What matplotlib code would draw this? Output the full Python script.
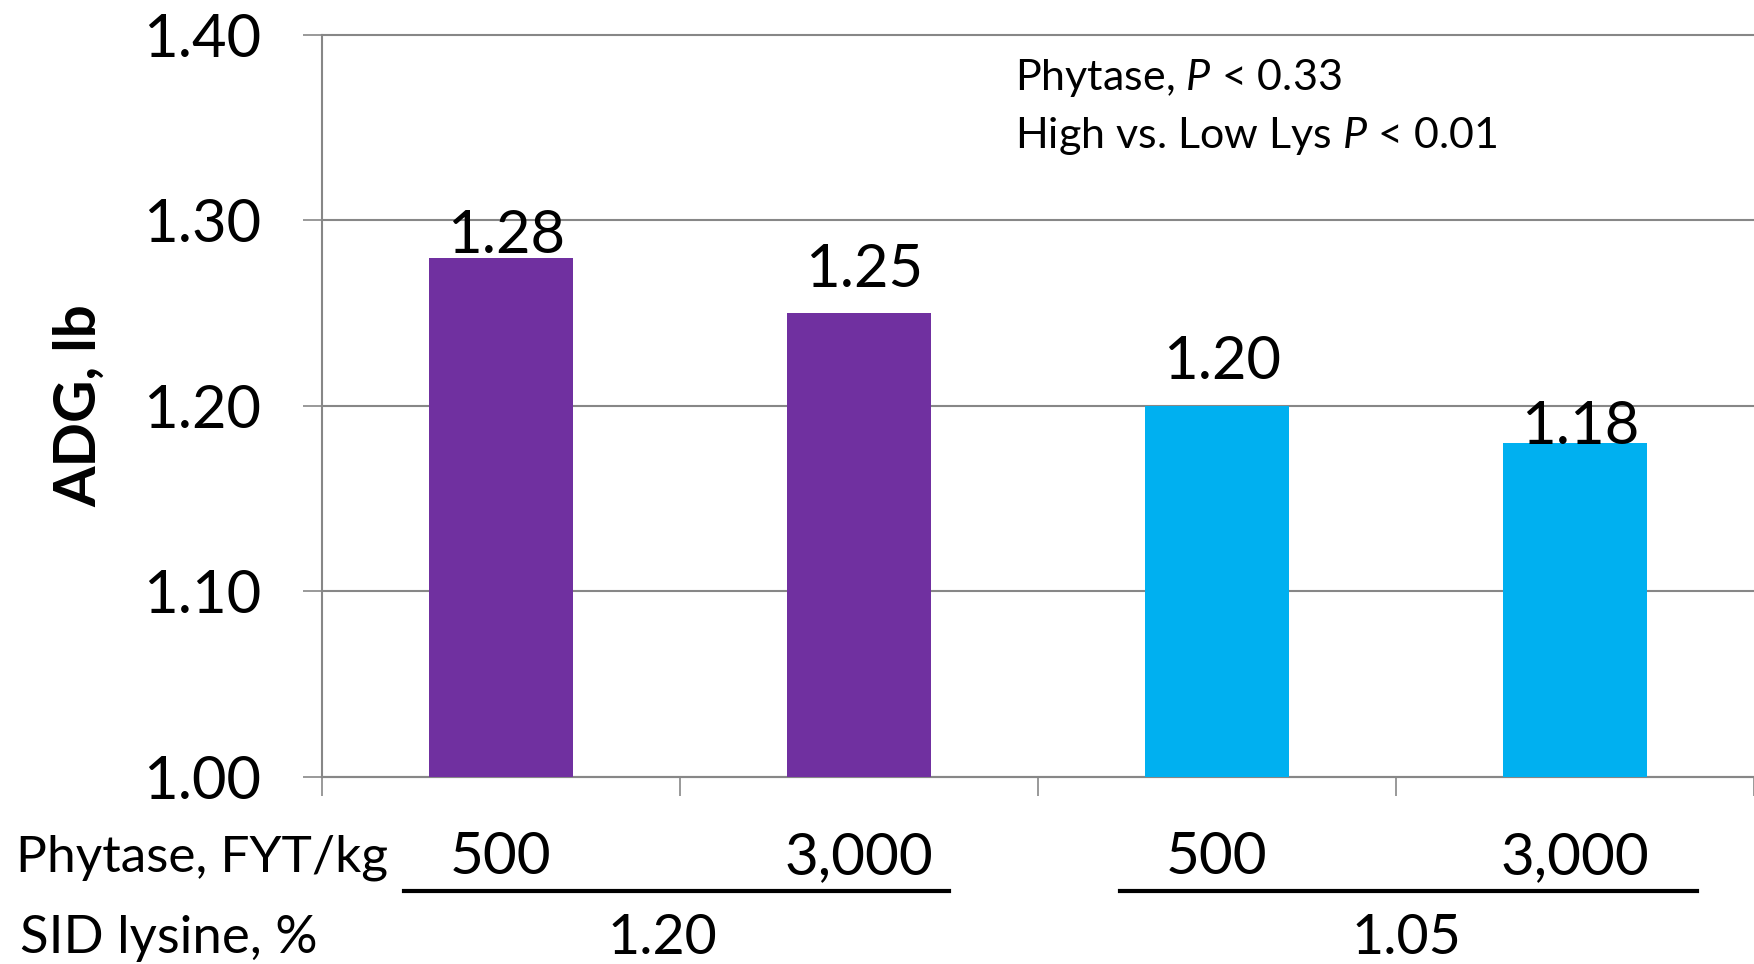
import matplotlib.pyplot as plt

plt.rcParams['font.family'] = ['Lato', 'DejaVu Sans']
plt.rcParams['mathtext.fontset'] = 'custom'
plt.rcParams['mathtext.rm'] = 'Lato'
plt.rcParams['mathtext.it'] = 'Lato:italic'

phytase = ["500", "3,000", "500", "3,000"]
lysine = ["1.20", "1.05"]
adg = [1.28, 1.25, 1.20, 1.18]
bar_colors = ["#7030A0", "#7030A0", "#00B0F0", "#00B0F0"]
label_offsets = [-4, 12, 12, -8]   # label nudges in points, as in the original
yticks = [1.00, 1.10, 1.20, 1.30, 1.40]

W, H = 1754, 964
fig = plt.figure(figsize=(W / 100, H / 100), dpi=100)
ax = fig.add_axes([322 / W, 1 - 777 / H, 1 - 322 / W, (777 - 35) / H])

x = range(len(adg))
ax.bar(x, adg, width=0.4, color=bar_colors, zorder=3)

for i, v in enumerate(adg):
    ax.annotate(f"{v:.2f}", (i, v), xytext=(4, label_offsets[i]),
                textcoords="offset points", ha="center", va="bottom",
                fontsize=43, zorder=4)

grid_c = "#878787"
ax.set_ylim(1.0, 1.4)
ax.set_xlim(-0.5, 3.5)
ax.set_yticks(yticks)
ax.set_yticklabels([f"{t:.2f}" for t in yticks], fontsize=43)
ax.yaxis.grid(True, color=grid_c, linewidth=1.5, zorder=0)
for g in ax.get_ygridlines():
    g.set_clip_on(False)
ax.set_xticks([-0.5, 0.5, 1.5, 2.5, 3.5])
ax.set_xticklabels([])
ax.tick_params(axis="both", length=14, width=1.2, color=grid_c, direction="out")
ax.tick_params(axis="y", pad=30)
for s in ["top", "right"]:
    ax.spines[s].set_visible(False)
ax.spines["left"].set_color(grid_c)
ax.spines["bottom"].set_color(grid_c)
ax.spines["left"].set_linewidth(1.5)
ax.spines["bottom"].set_linewidth(1.5)

ax.set_ylabel("ADG, lb", fontsize=42, fontweight="bold")
ax.yaxis.set_label_coords(-0.151, 0.5)

# category rows under the axis
trans = ax.get_xaxis_transform()
row1 = (777 - 858) / (777 - 35)
row2 = (777 - 938) / (777 - 35)
for i, lab in enumerate(phytase):
    ax.text(i, row1, lab, transform=trans, ha="center", va="center",
            fontsize=42, clip_on=False)
line_y = (777 - 891) / (777 - 35)
ax.plot([-0.27, 1.25], [line_y] * 2, transform=trans,
        color="black", linewidth=3, clip_on=False)
ax.plot([1.73, 3.34], [line_y] * 2, transform=trans,
        color="black", linewidth=3, clip_on=False)
for xpos, lab in zip([0.45, 2.53], lysine):
    ax.text(xpos, row2, lab, transform=trans, ha="center", va="center",
            fontsize=40, clip_on=False)

fig.text(16 / W, 1 - 858 / H, "Phytase, FYT/kg", ha="left", va="center", fontsize=37)
fig.text(20 / W, 1 - 938 / H, "SID lysine, %", ha="left", va="center", fontsize=38)

fig.text(1015 / W, 1 - 78 / H, "Phytase, $P$ < 0.33", ha="left", va="center", fontsize=31)
fig.text(1015 / W, 1 - 136 / H, "High vs. Low Lys $P$ < 0.01", ha="left", va="center", fontsize=31)

fig.savefig("out.png", dpi=100)
